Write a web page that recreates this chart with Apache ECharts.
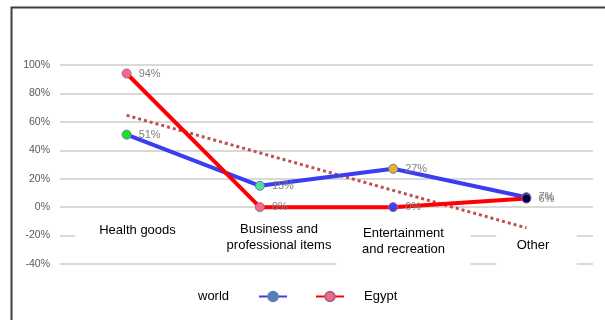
<!DOCTYPE html>
<html>
<head>
<meta charset="utf-8">
<script src="https://cdn.jsdelivr.net/npm/echarts@6/dist/echarts.min.js"></script>
<style>html,body{margin:0;padding:0;background:#fff;overflow:hidden;}#c{width:605px;height:320px;}</style>
</head>
<body>
<div id="c"></div>
<script>
var categories = ['Health goods', 'Business and\nprofessional items', 'Entertainment\nand recreation', 'Other'];
var worldValues = [51, 15, 27, 7];
var egyptValues = [94, 0, 0, 6];
var trendEnds = [64.6, -14.6];
var yTicks = [-40, -20, 0, 20, 40, 60, 80, 100];
var worldMarkerColors = ['#1ee01e', '#4fe0a0', '#f0b020', '#000060'];
var egyptMarkerColors = ['#f06a8a', '#f06a8a', '#4040f0', '#000050'];

var narrow = 'Liberation Sans, Arial, sans-serif';
var sans = 'Liberation Sans, Arial, sans-serif';
var labelPads = [[7, 24, 14, 24], [6, 11, 4, 28], [10, 25.5, 12, 25.5], [22, 27.5, 16, 20.5]];

var chart = echarts.init(document.getElementById('c'), null, {renderer: 'canvas'});
var trendData = categories.map(function (c, i) {
  if (i === 0) return trendEnds[0];
  if (i === categories.length - 1) return trendEnds[1];
  return '-';
});

chart.setOption({
  backgroundColor: '#fff',
  animation: false,
  graphic: [
    {type: 'polyline', shape: {points: [[620, 7.5], [11.5, 7.5], [11.5, 330]]},
     style: {stroke: '#3f3f3f', lineWidth: 2, fill: null}}
  ],
  grid: [
    {left: 60, right: 12, top: 65, bottom: 56},
    {left: 71, right: 2, top: 65, bottom: 113}
  ],
  legend: [
    {
      show: true, left: 198, top: 290, padding: 0, itemWidth: 28, itemHeight: 12, align: 'right',
      data: ['world'],
      formatter: function (name) { return '{a|' + name + '}'; },
      textStyle: {fontFamily: sans, fontSize: 13, color: '#000',
        rich: {a: {padding: [0, 25, 0, 0], fontSize: 13, fontFamily: sans, color: '#000'}}}
    },
    {
      show: true, left: 315, top: 290, padding: 0, itemWidth: 28, itemHeight: 12, align: 'left',
      data: ['Egypt'],
      formatter: function (name) { return '{b|' + name + '}'; },
      textStyle: {fontFamily: sans, fontSize: 13, color: '#000',
        rich: {b: {padding: [0, 0, 0, 15], fontSize: 13, fontFamily: sans, color: '#000'}}}
    }
  ],
  xAxis: [
    {
      type: 'category', gridIndex: 0, data: categories, boundaryGap: true,
      axisLine: {show: false}, axisTick: {show: false}, axisLabel: {show: false}, splitLine: {show: false}
    },
    {
      type: 'category', gridIndex: 1, boundaryGap: true, z: 5, position: 'bottom',
      data: categories.map(function (c, i) {
        return {value: c, textStyle: {padding: labelPads[i]}};
      }),
      axisLine: {show: false, onZero: false}, axisTick: {show: false}, splitLine: {show: false},
      axisLabel: {
        interval: 0, margin: 8, fontFamily: sans, fontSize: 13,
        lineHeight: 16, color: '#000', backgroundColor: '#fff'
      }
    }
  ],
  yAxis: [
    {
      type: 'value', gridIndex: 0, min: yTicks[0], max: yTicks[yTicks.length - 1], interval: 20,
      axisLine: {show: false}, axisTick: {show: false},
      splitLine: {lineStyle: {color: '#d9d9d9', width: 2}},
      axisLabel: {formatter: '{value}%', fontFamily: narrow, fontSize: 10.5, color: '#595959', margin: 10}
    },
    {
      type: 'value', gridIndex: 1, min: 0, max: 100, show: false,
      splitLine: {show: false}
    }
  ],
  series: [
    {
      name: 'trend', type: 'line', xAxisIndex: 0, yAxisIndex: 0, data: trendData, connectNulls: true,
      showSymbol: false, symbol: 'none', silent: true, z: 6,
      lineStyle: {color: '#c0504d', width: 3, type: [3, 3]}
    },
    {
      name: 'world', type: 'line', xAxisIndex: 0, yAxisIndex: 0, z: 7,
      data: worldValues.map(function (v, i) { return {value: v, itemStyle: {color: worldMarkerColors[i]}}; }),
      symbol: 'circle', symbolSize: 9,
      lineStyle: {color: '#3c3cf0', width: 4},
      itemStyle: {color: '#4f81bd', borderColor: '#5a7fb0', borderWidth: 1},
      label: {show: true, position: 'right', distance: 7, formatter: '{c}%', color: '#7f7f7f', fontFamily: narrow, fontSize: 11}
    },
    {
      name: 'Egypt', type: 'line', xAxisIndex: 0, yAxisIndex: 0, z: 8,
      data: egyptValues.map(function (v, i) { return {value: v, itemStyle: {color: egyptMarkerColors[i]}}; }),
      symbol: 'circle', symbolSize: 9,
      lineStyle: {color: '#ff0000', width: 4},
      itemStyle: {color: '#f06a8a', borderColor: '#b06080', borderWidth: 1},
      label: {show: true, position: 'right', distance: 7, formatter: '{c}%', color: '#7f7f7f', fontFamily: narrow, fontSize: 11}
    }
  ]
});
</script>
</body>
</html>
